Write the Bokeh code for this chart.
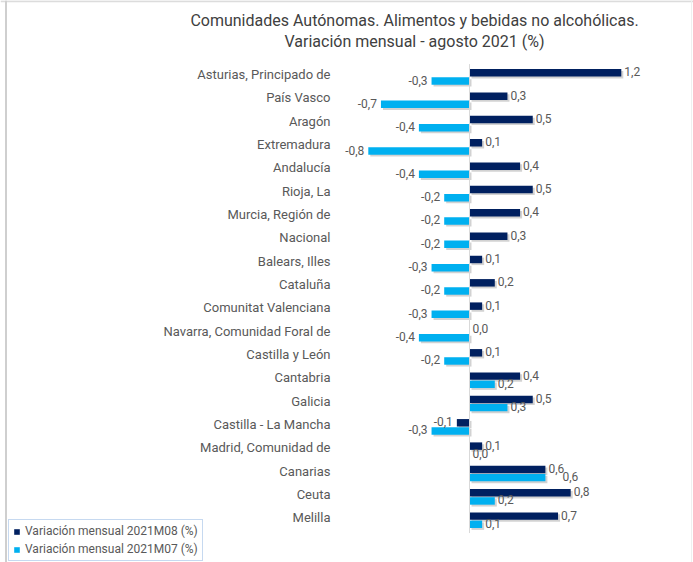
import numpy as np
from bokeh.plotting import figure
from bokeh.models import ColumnDataSource, Range1d, Legend, LegendItem, Label, Span
from bokeh.embed import file_html
from bokeh.resources import INLINE
from bokeh.core.properties import value

# ---------------- data ----------------
categories = ["Asturias, Principado de", "País Vasco", "Aragón", "Extremadura",
              "Andalucía", "Rioja, La", "Murcia, Región de", "Nacional",
              "Balears, Illes", "Cataluña", "Comunitat Valenciana",
              "Navarra, Comunidad Foral de", "Castilla y León", "Cantabria",
              "Galicia", "Castilla - La Mancha", "Madrid, Comunidad de",
              "Canarias", "Ceuta", "Melilla"]
m08 = [1.2, 0.3, 0.5, 0.1, 0.4, 0.5, 0.4, 0.3, 0.1, 0.2,
       0.1, 0.0, 0.1, 0.4, 0.5, -0.1, 0.1, 0.6, 0.8, 0.7]
m07 = [-0.3, -0.7, -0.4, -0.8, -0.4, -0.2, -0.2, -0.2, -0.3, -0.2,
       -0.3, -0.4, -0.2, 0.2, 0.3, -0.3, 0.0, 0.6, 0.2, 0.1]
series_names = ["Variación mensual 2021M08 (%)", "Variación mensual 2021M07 (%)"]
title_lines = ["Comunidades Autónomas. Alimentos y bebidas no alcohólicas.",
               "Variación mensual - agosto 2021 (%)"]

# ---------------- style / layout ----------------
NAVY = "#002060"
LIGHT = "#00b0f0"
TXT = "#595959"
TITLE_C = "#404040"
FONT = "Roboto"

W, H = 693, 562
FW, FH = W, H                 # frame fills the figure
ZERO_PX = 469.0               # zero line position
PX_PER_UNIT = 126.5
ROW_PX = 23.33
LAST_ROW_PX = 519.7           # centre of the last category
n = len(categories)

x_start = -ZERO_PX / PX_PER_UNIT
x_end = (FW - ZERO_PX) / PX_PER_UNIT
y_start = -(FH - LAST_ROW_PX) / ROW_PX
y_end = y_start + FH / ROW_PX

p = figure(width=W, height=H, x_range=Range1d(x_start, x_end),
           y_range=Range1d(y_start, y_end), output_backend="svg",
           toolbar_location=None, x_axis_location=None, y_axis_location=None,
           min_border=0, background_fill_color="white", border_fill_color="white")
p.grid.visible = False
p.outline_line_color = None

# chart-area border (top band, left edge with shadow, faint right edge)
px = 1.0 / PX_PER_UNIT
py = 1.0 / ROW_PX
p.add_layout(Span(location=y_end - 0.8 * py, dimension="width",
                  line_color="#dcdcdc", line_width=2))
p.add_layout(Span(location=x_start + 5.5 * px, dimension="height",
                  line_color="#cfcfcf", line_width=2))
p.add_layout(Span(location=x_end - 2 * px, dimension="height",
                  line_color="#efefef", line_width=1))

ypos = np.arange(n)[::-1].astype(float)
OFF = 0.175
BH = 0.32


def fmt(v):
    return f"{v:.1f}".replace(".", ",")


def series_source(vals, dy, extra_off=None):
    vals = np.array(vals, dtype=float)
    xoff = np.where(vals >= 0, 3.0, -4.0)
    if extra_off is not None:
        xoff = xoff + extra_off
    return ColumnDataSource(dict(
        cat=categories,
        y=ypos + dy,
        ys=ypos + dy - 0.08,
        v=vals,
        vs=vals + 2 * px,
        zs=np.full(n, 2 * px),
        lab=[fmt(v) for v in vals],
        align=["left" if v >= 0 else "right" for v in vals],
        xoff=xoff,
    ))


# avoid overlap of identical labels of both series (Excel moved them)
same = np.array([(a == b) and a > 0 for a, b in zip(m08, m07)])
src08 = series_source(m08, OFF)
src07 = series_source(m07, -OFF, extra_off=np.where(same, 14.0, 0.0))

# shadows
for s in (src08, src07):
    p.hbar(y="ys", left="zs", right="vs", height=BH, source=s,
           fill_color="#7f7f7f", fill_alpha=0.35, line_color=None)

r08 = p.hbar(y="y", left=0, right="v", height=BH, source=src08,
             fill_color=NAVY, line_color=None)
r07 = p.hbar(y="y", left=0, right="v", height=BH, source=src07,
             fill_color=LIGHT, line_color=None)

# zero axis line
p.segment(x0=[0], y0=[-0.55], x1=[0], y1=[n - 0.45], line_color="#d9d9d9", line_width=1)

# value labels
for s in (src08, src07):
    p.text(x="v", y="y", text="lab", source=s, text_align="align",
           text_baseline="middle", x_offset="xoff", y_offset=-1,
           text_font=value(FONT), text_font_size="12px", text_color=TXT)

# category labels
cat_x = (330 - ZERO_PX) / PX_PER_UNIT
p.text(x=np.full(n, cat_x), y=ypos + 0.1, text=categories, text_align="right",
       text_baseline="middle", text_font=value(FONT), text_font_size="13px",
       text_color=TXT)

# title
for i, t in enumerate(title_lines):
    p.add_layout(Label(x=414, y=FH - 20 - 21 * i,
                       x_units="screen", y_units="screen",
                       text=t, text_align="center", text_baseline="middle",
                       text_font=FONT, text_font_size="16px", text_color=TITLE_C))

legend = Legend(items=[LegendItem(label=series_names[0], renderers=[r08]),
                       LegendItem(label=series_names[1], renderers=[r07])],
                location=(8, 1), orientation="vertical",
                border_line_color="#8db4e2", border_line_width=1,
                background_fill_alpha=1.0, glyph_width=7, glyph_height=7,
                label_text_font=FONT, label_text_font_size="12px",
                label_text_color=TXT, label_standoff=5, spacing=4,
                padding=4, margin=0, label_height=13)
p.add_layout(legend)

open("out.html", "w").write(file_html(p, INLINE))
